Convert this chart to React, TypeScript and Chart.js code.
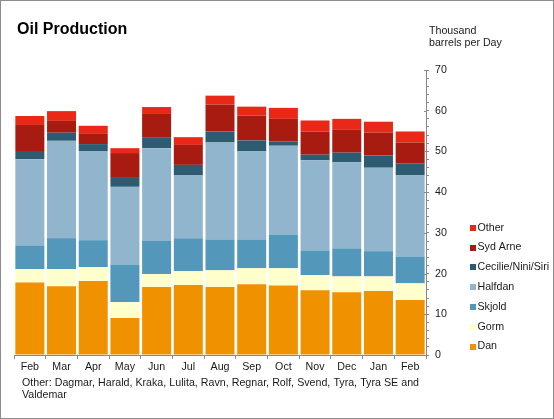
import React, { useEffect, useRef } from "react";
import { Chart, registerables } from "chart.js";

Chart.register(...registerables);

const months = ["Feb", "Mar", "Apr", "May", "Jun", "Jul", "Aug", "Sep", "Oct", "Nov", "Dec", "Jan", "Feb"];

const dan = [17.8, 16.9, 18.2, 9.1, 16.7, 17.2, 16.7, 17.4, 17.1, 15.9, 15.4, 15.7, 13.5];
const gorm = [3.3, 4.2, 3.4, 3.9, 3.2, 3.4, 4.1, 3.9, 4.2, 3.7, 3.9, 3.6, 4.1];
const skjold = [5.7, 7.6, 6.6, 9.1, 8.1, 8.1, 7.6, 7.1, 8.3, 6.1, 6.9, 6.2, 6.6];
const halfdan = [21.3, 23.9, 21.9, 19.2, 22.8, 15.5, 23.8, 21.6, 21.8, 22.1, 21.1, 20.5, 19.9];
const cecilie = [2.0, 2.0, 1.7, 2.2, 2.7, 2.5, 2.7, 2.7, 1.0, 1.4, 2.4, 3.0, 2.9];
const sydArne = [6.4, 2.9, 2.5, 6.1, 5.7, 4.9, 6.6, 6.1, 5.6, 5.7, 5.6, 5.6, 5.2];
const other = [2.2, 2.4, 2.0, 1.2, 1.7, 1.9, 2.2, 2.2, 2.7, 2.7, 2.7, 2.7, 2.7];

const seriesNames = ["Dan", "Gorm", "Skjold", "Halfdan", "Cecilie/Nini/Siri", "Syd Arne", "Other"];
const seriesColors = ["#F09100", "#FFFFCC", "#5398BA", "#91B5CD", "#2D5B72", "#A81B10", "#E92817"];

const yTickValues = [0, 10, 20, 30, 40, 50, 60, 70];

const titleText = "Oil Production";
const unitLines = ["Thousand", "barrels per Day"];
const footLines = [
  "Other: Dagmar, Harald, Kraka, Lulita, Ravn, Regnar, Rolf, Svend, Tyra, Tyra SE and",
  "Valdemar",
];

const FONT = "'Liberation Sans', Arial, sans-serif";
const FS = 10.67;
const TEXT = "#1a1a1a";
const AXIS = "#888888";

const decorPlugin = {
  id: "decor",
  afterDraw(chart: any) {
    const ctx = chart.ctx as CanvasRenderingContext2D;
    ctx.save();
    // outer frame
    ctx.strokeStyle = "#8c8c8c";
    ctx.lineWidth = 1;
    ctx.strokeRect(0.5, 0.5, chart.width - 1, chart.height - 1);

    // title
    ctx.fillStyle = "#000";
    ctx.font = `bold 16px ${FONT}`;
    ctx.textBaseline = "alphabetic";
    ctx.textAlign = "left";
    ctx.fillText(titleText, 17, 34);

    // unit label
    ctx.font = `${FS}px ${FONT}`;
    ctx.fillStyle = TEXT;
    ctx.textBaseline = "middle";
    unitLines.forEach((l, i) => ctx.fillText(l, 429, 31.5 + i * 12));

    // major y ticks inner part
    const y = chart.scales.y;
    const axisX = chart.chartArea.right;
    ctx.strokeStyle = AXIS;
    ctx.lineWidth = 1;
    yTickValues.forEach((v) => {
      const py = Math.round(y.getPixelForValue(v)) + 0.5;
      ctx.beginPath();
      ctx.moveTo(axisX - 2, py);
      ctx.lineTo(axisX, py);
      ctx.stroke();
    });

    // legend (reverse order)
    const ds = chart.data.datasets;
    ctx.font = `${FS}px ${FONT}`;
    ctx.textBaseline = "middle";
    for (let k = 0; k < ds.length; k++) {
      const d = ds[ds.length - 1 - k];
      const cy = 227.7 + k * 19.8;
      ctx.fillStyle = d.backgroundColor;
      ctx.fillRect(470, Math.round(cy - 3), 6, 6);
      ctx.fillStyle = TEXT;
      ctx.fillText(d.label, 477.5, cy);
    }

    // footnote, first line justified
    ctx.fillStyle = TEXT;
    const x0 = 22;
    const x1 = 419;
    const words = footLines[0].split(" ");
    const ww = words.map((w) => ctx.measureText(w).width);
    const total = ww.reduce((a, b) => a + b, 0);
    const natural = ctx.measureText(footLines[0]).width;
    if (natural < x1 - x0) {
      const gap = (x1 - x0 - total) / (words.length - 1);
      let cx = x0;
      words.forEach((w, i) => {
        ctx.fillText(w, cx, 383.5);
        cx += ww[i] + gap;
      });
    } else {
      ctx.fillText(footLines[0], x0, 383.5);
    }
    ctx.fillText(footLines[1], x0, 395.5);
    ctx.restore();
  },
};

export default function App() {
  const ref = useRef<HTMLCanvasElement | null>(null);

  useEffect(() => {
    document.body.style.margin = "0";
    const canvas = ref.current!;
    const seriesData = [dan, gorm, skjold, halfdan, cecilie, sydArne, other];
    const chart = new Chart(canvas, {
      type: "bar",
      data: {
        labels: months,
        datasets: seriesData.map((d, i) => ({
          label: seriesNames[i],
          data: d,
          backgroundColor: seriesColors[i],
          borderWidth: 0,
          barPercentage: 0.915,
          categoryPercentage: 1.0,
        })),
      },
      options: {
        responsive: false,
        animation: false,
        devicePixelRatio: 1,
        layout: { padding: { left: 14, top: 70, right: 88, bottom: 44 } },
        plugins: {
          legend: { display: false },
          title: { display: false },
          tooltip: { enabled: false },
        },
        scales: {
          x: {
            stacked: true,
            grid: {
              offset: true,
              drawOnChartArea: false,
              drawTicks: true,
              tickLength: 4,
              color: AXIS,
            },
            border: { display: true, color: AXIS },
            ticks: {
              color: TEXT,
              font: { family: FONT, size: FS },
              padding: 2,
              maxRotation: 0,
              autoSkip: false,
            },
            afterFit: (s: any) => {
              s.height = 20;
            },
          },
          y: {
            stacked: true,
            position: "right",
            min: 0,
            max: 70,
            grid: {
              drawOnChartArea: false,
              drawTicks: true,
              tickLength: 3,
              color: AXIS,
            },
            border: { display: true, color: AXIS },
            ticks: {
              stepSize: 2,
              autoSkip: false,
              color: TEXT,
              font: { family: FONT, size: FS },
              padding: 6,
              callback: (v: any) => (Number(v) % 10 === 0 ? String(v) : ""),
            },
            afterFit: (s: any) => {
              s.width = 40;
            },
          },
        },
      },
      plugins: [decorPlugin],
    });
    return () => chart.destroy();
  }, []);

  return (
    <div style={{ position: "absolute", left: 0, top: 0, width: 554, height: 419, background: "#fff" }}>
      <canvas ref={ref} width={554} height={419} style={{ display: "block", width: 554, height: 419 }} />
    </div>
  );
}
